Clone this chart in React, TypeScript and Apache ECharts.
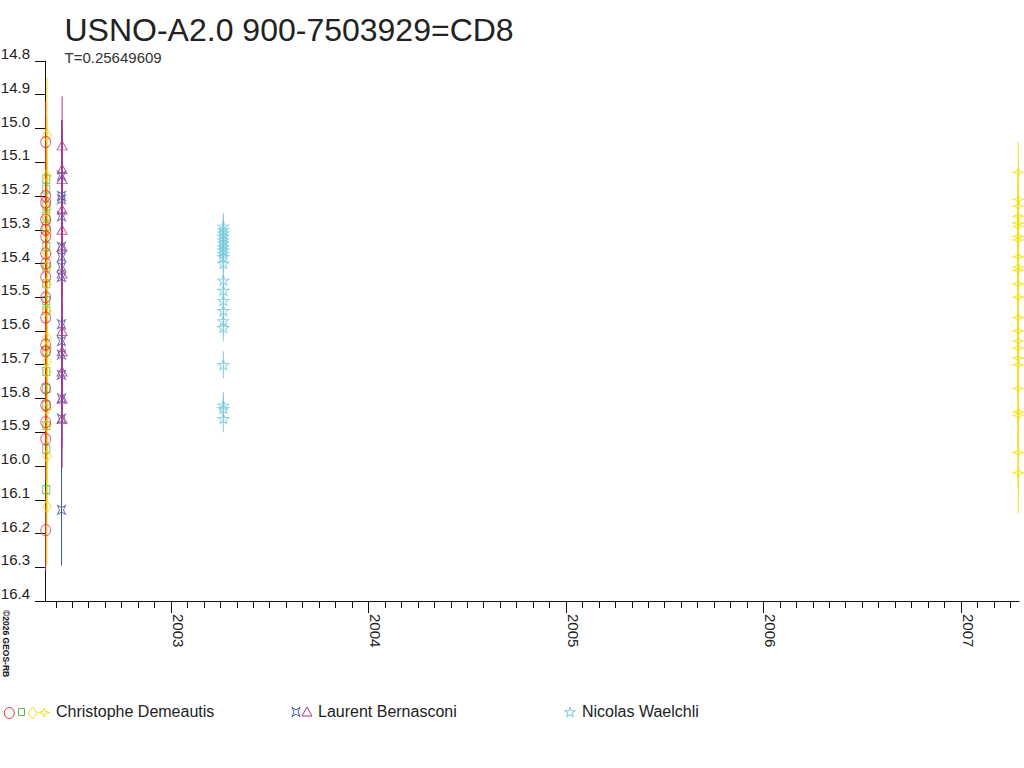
import React, { useEffect, useRef } from "react";
import * as echarts from "echarts";

// ---------- data ----------
const titleText = "USNO-A2.0 900-7503929=CD8";
const subtitleText = "T=0.25649609";
const copyrightText = "©2026 GEOS-RB";

const observers = ["Christophe Demeautis", "Laurent Bernasconi", "Nicolas Waelchli"];

const yearTicks = [2003, 2004, 2005, 2006, 2007];
const yMin = 14.8;
const yMax = 16.4;
const yStep = 0.1;
const xMin = 2002.362;
const xMax = 2007.294;

// Christophe Demeautis
const redDate = 2002.3655;
const redMags = [15.04, 15.2, 15.22, 15.27, 15.3, 15.32, 15.37, 15.4, 15.44, 15.5, 15.56, 15.64, 15.66, 15.77, 15.82, 15.87, 15.92, 16.19];
const redErr = 0.12;

const greenDate = 2002.3685;
const greenMags = [15.15, 15.18, 15.23, 15.26, 15.29, 15.35, 15.41, 15.46, 15.51, 15.54, 15.66, 15.72, 15.77, 15.82, 15.88, 15.95, 16.07];
const greenErr = 0.1;

const yellowDate = 2002.372;
const yellowMags = [15.02, 15.14, 15.24, 15.27, 15.31, 15.37, 15.41, 15.46, 15.54, 15.62, 15.65, 15.69, 15.72, 15.83, 15.88, 15.97, 16.12];
const yellowErr = 0.17;

const starDate = 2007.29;
const starMags = [15.13, 15.21, 15.23, 15.26, 15.28, 15.29, 15.32, 15.33, 15.38, 15.41, 15.42, 15.46, 15.5, 15.56, 15.6, 15.63, 15.65, 15.68, 15.7, 15.77, 15.84, 15.85, 15.96, 16.02];
const starErrs = [0.09, 0.09, 0.09, 0.09, 0.09, 0.09, 0.09, 0.09, 0.09, 0.09, 0.09, 0.09, 0.09, 0.09, 0.09, 0.09, 0.09, 0.09, 0.09, 0.1, 0.1, 0.1, 0.11, 0.12];

// Laurent Bernasconi
const blueDate = 2002.4456;
const blueMags = [15.14, 15.2, 15.21, 15.26, 15.35, 15.38, 15.41, 15.44, 15.58, 15.63, 15.67, 15.73, 15.8, 15.86, 16.13];
const blueErr = 0.165;

const magentaDate = 2002.4486;
const magentaMags = [15.05, 15.12, 15.15, 15.24, 15.3, 15.35, 15.43, 15.6, 15.66, 15.72, 15.8, 15.86];
const magentaErr = 0.145;

// Nicolas Waelchli
const cyanDate = 2003.265;
const cyanMags = [15.29, 15.3, 15.31, 15.32, 15.33, 15.34, 15.35, 15.36, 15.37, 15.38, 15.4, 15.45, 15.48, 15.51, 15.54, 15.57, 15.59, 15.7, 15.82, 15.83, 15.86];
const cyanErr = 0.04;

// ---------- styling ----------
const RED = "#e8303a";
const GREEN = "#5ab34a";
const YELLOW = "#f0e010";
const BLUE = "#3f55a8";
const MAGENTA = "#b0358c";
const CYAN = "#6cc8dc";
const CYAN_BAR = "#8ec6d4";
const AXIS = "#111";
const FONT = "'Liberation Sans', Arial, sans-serif";

const STAR4 = "path://M5,0 L6.2,3.8 L10,5 L6.2,6.2 L5,10 L3.8,6.2 L0,5 L3.8,3.8 Z";
const CONCAVE = "path://M0,0 L5,2.5 L10,0 L7.5,5 L10,10 L5,7.5 L0,10 L2.5,5 Z";
const STAR5 = "path://M5,0 L6.18,3.38 L9.76,3.45 L6.9,5.62 L7.94,9.05 L5,7 L2.06,9.05 L3.1,5.62 L0.24,3.45 L3.82,3.38 Z";

const star4Pts = [[0, -1], [0.24, -0.24], [1, 0], [0.24, 0.24], [0, 1], [-0.24, 0.24], [-1, 0], [-0.24, -0.24]];
const concavePts = [[-1, -1], [0, -0.5], [1, -1], [0.5, 0], [1, 1], [0, 0.5], [-1, 1], [-0.5, 0]];
const star5Pts = [[0, -1], [0.236, -0.324], [0.951, -0.309], [0.38, 0.124], [0.588, 0.809], [0, 0.4], [-0.588, 0.809], [-0.38, 0.124], [-0.951, -0.309], [-0.236, -0.324]];

function place(pts: number[][], cx: number, cy: number, sx: number, sy: number) {
  return pts.map((p) => [cx + p[0] * sx, cy + p[1] * sy]);
}

function errSeries(date: number, mags: number[], errs: number | number[], color: string) {
  return {
    type: "custom",
    silent: true,
    xAxisIndex: 0,
    yAxisIndex: 0,
    z: 1,
    encode: { x: 0, y: 1 },
    data: mags.map((m, i) => [date, m, Array.isArray(errs) ? errs[i] : errs]),
    renderItem: (_p: any, api: any) => {
      const x = api.value(0);
      const m = api.value(1);
      const e = api.value(2);
      const a = api.coord([x, m - e]);
      const b = api.coord([x, m + e]);
      return {
        type: "line",
        shape: { x1: a[0], y1: a[1], x2: b[0], y2: b[1] },
        style: { stroke: color, lineWidth: 1 },
      };
    },
  };
}

function markSeries(name: string, date: number, mags: number[], symbol: string, size: number | number[], color: string) {
  return {
    type: "scatter",
    name,
    xAxisIndex: 0,
    yAxisIndex: 0,
    z: 3,
    symbol,
    symbolSize: size,
    itemStyle: { color: "transparent", borderColor: color, borderWidth: 1 },
    data: mags.map((m) => [date, m]),
  };
}

export default function App() {
  const ref = useRef<HTMLDivElement>(null);

  useEffect(() => {
    if (!ref.current) return;
    const chart = echarts.init(ref.current, null, { renderer: "svg" });

    const monthTicks: number[] = [];
    for (let y = 2002; y <= 2007; y++) {
      for (let m = 0; m < 12; m++) {
        const v = y + m / 12;
        if (v >= xMin && v <= xMax) monthTicks.push(v);
      }
    }

    const legendText = (text: string, x: number) => ({
      type: "text",
      x,
      y: 711,
      style: { text, fontSize: 16, fontFamily: FONT, fill: "#222", align: "left", verticalAlign: "middle" },
    });

    const option: any = {
      animation: false,
      backgroundColor: "#fff",
      title: {
        text: titleText,
        subtext: subtitleText,
        left: 64.5,
        top: 14,
        itemGap: 4,
        padding: 0,
        textStyle: { fontSize: 32, lineHeight: 32, fontWeight: "normal", color: "#222", fontFamily: FONT },
        subtextStyle: { fontSize: 15, lineHeight: 15, color: "#333", fontFamily: FONT },
      },
      grid: { left: 45, right: 5, top: 61, bottom: 167, containLabel: false, outerBoundsMode: "none" },
      xAxis: [
        {
          type: "value",
          min: xMin,
          max: xMax,
          position: "bottom",
          axisLine: { show: true, onZero: false, lineStyle: { color: AXIS, width: 1 } },
          axisTick: { show: true, length: 7, customValues: monthTicks, lineStyle: { color: AXIS } },
          axisLabel: { show: false },
          splitLine: { show: false },
        },
        {
          type: "value",
          min: xMin,
          max: xMax,
          position: "bottom",
          offset: 0,
          axisLine: { show: false, onZero: false },
          axisTick: { show: true, length: 12, customValues: yearTicks, lineStyle: { color: AXIS } },
          axisLabel: {
            show: true,
            customValues: yearTicks,
            rotate: -90,
            align: "left",
            verticalAlign: "bottom",
            margin: 13,
            fontSize: 15,
            color: "#222",
            fontFamily: FONT,
            formatter: (v: number) => String(Math.round(v)),
          },
          splitLine: { show: false },
        },
      ],
      yAxis: {
        type: "value",
        inverse: true,
        min: yMin,
        max: yMax,
        interval: yStep,
        axisLine: { show: true, lineStyle: { color: AXIS, width: 1 } },
        axisTick: { show: true, length: 10, lineStyle: { color: AXIS } },
        axisLabel: {
          show: true,
          showMinLabel: true,
          showMaxLabel: true,
          margin: 15,
          fontSize: 15,
          color: "#222",
          fontFamily: FONT,
          verticalAlign: "bottom",
          formatter: (v: number) => v.toFixed(1),
        },
        splitLine: { show: false },
      },
      series: [
        errSeries(greenDate, greenMags, greenErr, GREEN),
        errSeries(yellowDate, yellowMags, yellowErr, YELLOW),
        errSeries(redDate, redMags, redErr, RED),
        errSeries(starDate, starMags, starErrs, YELLOW),
        errSeries(blueDate, blueMags, blueErr, BLUE),
        errSeries(magentaDate, magentaMags, magentaErr, MAGENTA),
        errSeries(cyanDate, cyanMags, cyanErr, CYAN_BAR),
        markSeries(observers[0], greenDate, greenMags, "rect", [7, 8], GREEN),
        markSeries(observers[0], yellowDate, yellowMags, "diamond", [9, 12], YELLOW),
        markSeries(observers[0], redDate, redMags, "circle", [10, 11], RED),
        markSeries(observers[0], starDate, starMags, STAR4, [11, 10], YELLOW),
        markSeries(observers[1], blueDate, blueMags, CONCAVE, [8, 9], BLUE),
        markSeries(observers[1], magentaDate, magentaMags, "triangle", [10, 9], MAGENTA),
        markSeries(observers[2], cyanDate, cyanMags, STAR5, [11, 10], CYAN),
      ],
      graphic: [
        {
          type: "text",
          x: 1,
          y: 610,
          rotation: -Math.PI / 2,
          style: { text: copyrightText, fontSize: 8.5, fontWeight: "bold", fontFamily: FONT, fill: "#111", align: "left", verticalAlign: "bottom" },
        },
        { type: "ellipse", shape: { cx: 9.3, cy: 713, rx: 5, ry: 5.5 }, style: { fill: "none", stroke: RED, lineWidth: 1 } },
        { type: "rect", shape: { x: 18.5, y: 708.5, width: 6, height: 7 }, style: { fill: "none", stroke: GREEN, lineWidth: 1 } },
        { type: "polygon", shape: { points: [[32.7, 707], [37.2, 713], [32.7, 719], [28.2, 713]] }, style: { fill: "none", stroke: YELLOW, lineWidth: 1 } },
        { type: "polygon", shape: { points: place(star4Pts, 44.3, 712.5, 5.5, 4.7) }, style: { fill: "none", stroke: YELLOW, lineWidth: 1 } },
        legendText(observers[0], 56),
        { type: "polygon", shape: { points: place(concavePts, 296, 712, 4, 4.5) }, style: { fill: "none", stroke: BLUE, lineWidth: 1 } },
        { type: "polygon", shape: { points: [[307, 707], [312, 716], [302, 716]] }, style: { fill: "none", stroke: MAGENTA, lineWidth: 1 } },
        legendText(observers[1], 318),
        { type: "polygon", shape: { points: place(star5Pts, 570, 712.5, 5.5, 5.5) }, style: { fill: "none", stroke: CYAN, lineWidth: 1 } },
        legendText(observers[2], 582),
      ],
    };

    chart.setOption(option);
    return () => chart.dispose();
  }, []);

  return (
    <div
      ref={ref}
      style={{ position: "fixed", left: 0, top: 0, width: 1024, height: 768, background: "#fff" }}
    />
  );
}
